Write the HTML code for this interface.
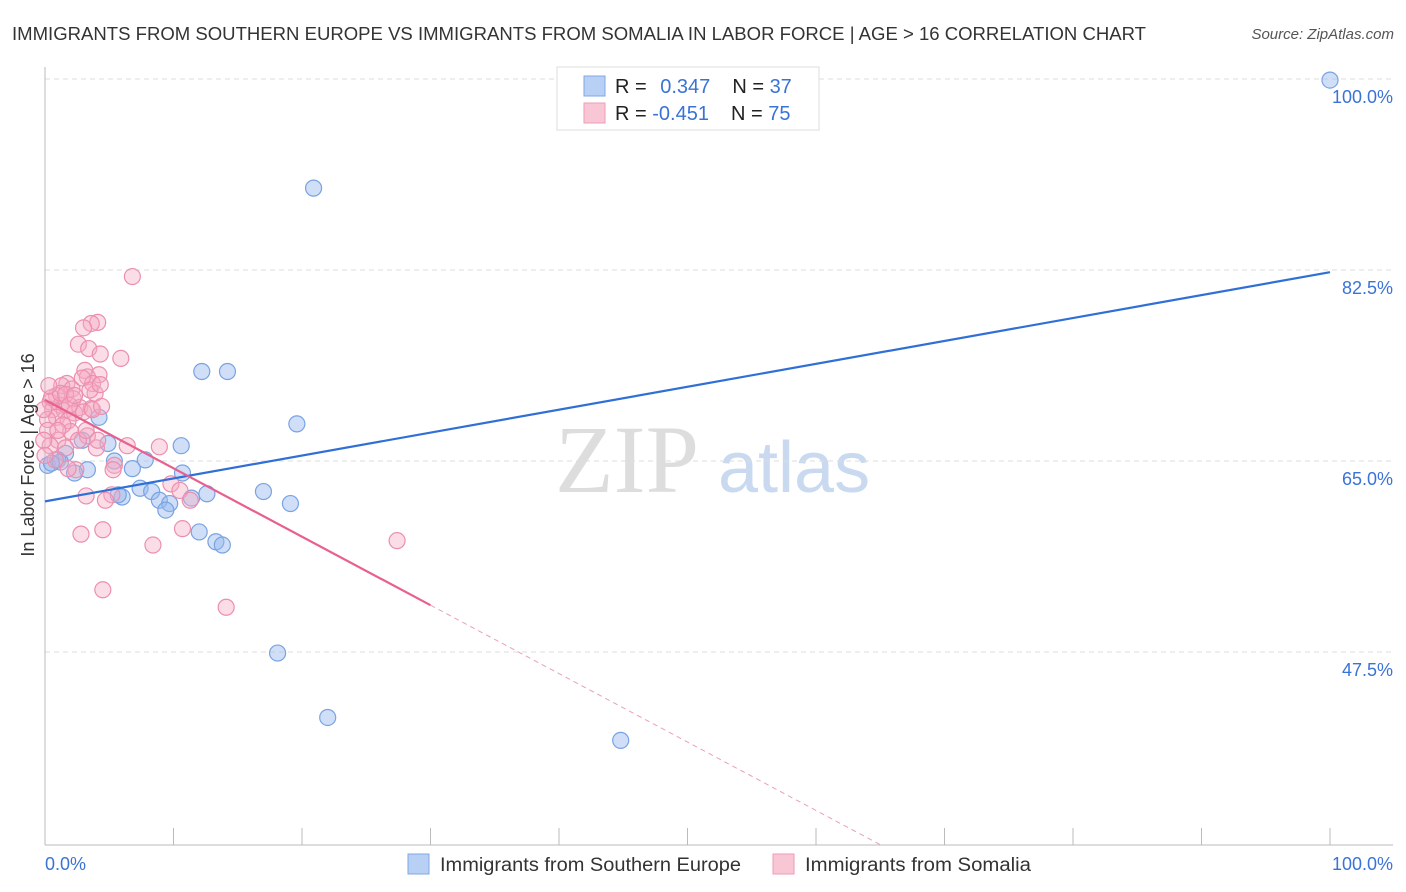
<!DOCTYPE html>
<html><head><meta charset="utf-8"><style>
body{margin:0;background:#fff;font-family:"Liberation Sans",sans-serif;}
svg{display:block}
</style></head><body>
<svg id="c" width="1406" height="892">
<text x="12" y="40" font-size="18" fill="#333" textLength="1134" lengthAdjust="spacingAndGlyphs">IMMIGRANTS FROM SOUTHERN EUROPE VS IMMIGRANTS FROM SOMALIA IN LABOR FORCE | AGE &gt; 16 CORRELATION CHART</text>
<text x="1394" y="39" font-size="15" fill="#555" font-style="italic" text-anchor="end">Source: ZipAtlas.com</text>
<text x="555" y="492" font-size="96" fill="#ddd" font-family="Liberation Serif">ZIP</text>
<text x="718" y="492" font-size="72" fill="#c9d9f0">atlas</text>
<g id="grid"></g><g id="pts"></g><g id="lines"></g>
<text transform="translate(34,455) rotate(-90)" font-size="18" fill="#333" text-anchor="middle">In Labor Force | Age &gt; 16</text>
<text x="45" y="870" font-size="18" fill="#3a73d6">0.0%</text>
<text x="1393" y="870" font-size="18" fill="#3a73d6" text-anchor="end">100.0%</text>
<g>
<rect x="557" y="67" width="262" height="63" fill="#fff" stroke="#ddd"/>
<rect x="584" y="76" width="21" height="20" fill="#b7d0f4" stroke="#7fa8e6"/>
<rect x="584" y="103" width="21" height="20" fill="#f9c6d5" stroke="#ee9db6"/>
<text x="615" y="93" font-size="20" fill="#222">R = <tspan fill="#3a73d6" dx="8">0.347</tspan><tspan dx="22" fill="#222">N = </tspan><tspan fill="#3a73d6">37</tspan></text>
<text x="615" y="120" font-size="20" fill="#222">R = <tspan fill="#3a73d6">-0.451</tspan><tspan dx="22" fill="#222">N = </tspan><tspan fill="#3a73d6">75</tspan></text>
</g>
<g>
<rect x="408" y="854" width="21" height="20" fill="#b7d0f4" stroke="#7fa8e6"/>
<text x="440" y="871" font-size="19" fill="#333" textLength="301" lengthAdjust="spacingAndGlyphs">Immigrants from Southern Europe</text>
<rect x="773" y="854" width="21" height="20" fill="#f9c6d5" stroke="#ee9db6"/>
<text x="805" y="871" font-size="19" fill="#333" textLength="226" lengthAdjust="spacingAndGlyphs">Immigrants from Somalia</text>
</g>
</svg>
<script>
const yTicks=[47.5,65.0,82.5,100.0];
const bluePx=[[1330,80],[314,188],[227,371],[202,372],[297,424],[99,417],[181,446],[82,440],[108,443],[66,453],[47,465],[58,460],[145,460],[114,461],[133,469],[87,470],[74,473],[182,473],[140,488],[122,497],[152,492],[160,500],[170,504],[166,510],[191,498],[207,494],[264,492],[290,504],[199,532],[216,542],[222,545],[277,653],[328,718],[621,740],[60,462],[52,463],[118,495]];
const pinkPx=[[133,277],[98,322],[91,323],[83,328],[78,344],[89,349],[100,354],[121,358],[85,370],[99,375],[88,377],[67,383],[93,384],[62,386],[72,389],[95,393],[56,395],[73,399],[50,402],[61,405],[53,410],[80,407],[91,409],[64,411],[75,413],[57,417],[48,420],[68,421],[84,412],[93,410],[71,432],[88,436],[58,440],[50,446],[96,448],[127,446],[160,447],[115,465],[76,470],[68,469],[171,484],[180,490],[190,500],[86,496],[112,495],[106,500],[81,534],[103,530],[153,545],[182,529],[397,541],[103,590],[226,607],[47,430],[52,398],[60,393],[66,394],[44,440],[44,410],[63,425],[78,440],[98,440],[86,430],[55,460],[45,455],[70,405],[82,378],[90,390],[102,406],[113,470],[75,395],[58,430],[66,448],[49,386],[100,385]];
const blueX=bluePx.map(p=>+((p[0]-45)/12.85).toFixed(1));
const blueY=bluePx.map(p=>+(100-(p[1]-79)/10.914).toFixed(1));
const pinkX=pinkPx.map(p=>+((p[0]-45)/12.85).toFixed(1));
const pinkY=pinkPx.map(p=>+(100-(p[1]-79)/10.914).toFixed(1));
const blueLine=[61.3,82.3];
const pinkLine=[70.6,-0.627];
const X=v=>45+v*12.85, Y=v=>79+(100-v)*10.914;
const NS='http://www.w3.org/2000/svg';
function mk(t,a,parent){const e=document.createElementNS(NS,t);for(const k in a)e.setAttribute(k,a[k]);document.getElementById(parent).appendChild(e);return e;}
yTicks.forEach(t=>{
 const l=mk('line',{x1:45,x2:1393,y1:Y(t),y2:Y(t),stroke:'#ddd','stroke-dasharray':'5,4'},'grid');
 
 
 const tx=mk('text',{x:1393,y:Y(t)+24,'font-size':18,fill:'#3a73d6','text-anchor':'end'},'grid');
 tx.textContent=t.toFixed(1)+'%';
 
 
});
const ax=mk('line',{x1:45,x2:1393,y1:845,y2:845,stroke:'#bbb'},'grid');


const ay=mk('line',{x1:45,x2:45,y1:67,y2:845,stroke:'#bbb'},'grid');


for(let i=0;i<=10;i++){const t=mk('line',{x1:X(i*10),x2:X(i*10),y1:828,y2:845,stroke:'#bbb'},'grid');
 
 }
blueX.forEach((x,i)=>{const c=mk('circle',{cx:X(x),cy:Y(blueY[i]),r:8,fill:'rgba(150,185,238,0.45)',stroke:'#78a3e3','stroke-width':1.2},'pts');
 
 });
pinkX.forEach((x,i)=>{const c=mk('circle',{cx:X(x),cy:Y(pinkY[i]),r:8,fill:'rgba(245,170,195,0.4)',stroke:'#ec8fae','stroke-width':1.2},'pts');
 
 });
const bl=mk('line',{x1:X(0),y1:Y(blueLine[0]),x2:X(100),y2:Y(blueLine[1]),stroke:'#2f6fd6','stroke-width':2.2},'lines');


const pf=x=>pinkLine[0]+pinkLine[1]*x;
const pl=mk('line',{x1:X(0),y1:Y(pf(0)),x2:X(30),y2:Y(pf(30)),stroke:'#e8608f','stroke-width':2.2},'lines');


const xe=(29.8-pinkLine[0])/pinkLine[1];
const pd=mk('line',{x1:X(30),y1:Y(pf(30)),x2:X(xe),y2:Y(pf(xe)),stroke:'#e8a0b8','stroke-width':1,'stroke-dasharray':'5,4'},'lines');


</script>
</body></html>
